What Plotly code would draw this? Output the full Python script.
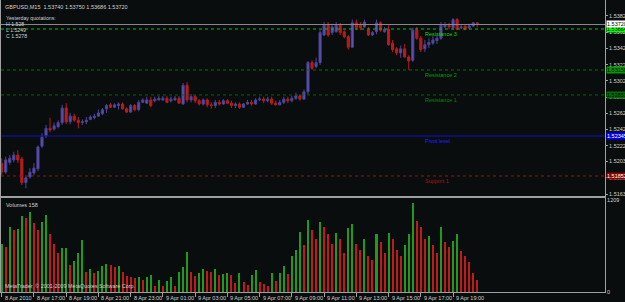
import plotly.graph_objects as go

# ---------------- data ----------------
bar_index = list(range(119))

opens = [1.5201,1.5190,1.5202,1.5205,1.5211,1.5206,1.5177,1.5184,1.5189,1.5194,
         1.5222,1.5235,1.5244,1.5243,1.5246,1.5251,1.5269,1.5252,1.5259,1.5254,
         1.5251,1.5252,1.5255,1.5257,1.5259,1.5262,1.5268,1.5273,1.5270,1.5272,
         1.5274,1.5268,1.5264,1.5272,1.5267,1.5276,1.5275,1.5279,1.5278,1.5279,
         1.5279,1.5281,1.5278,1.5279,1.5281,1.5274,1.5297,1.5279,1.5283,1.5278,
         1.5274,1.5279,1.5273,1.5272,1.5276,1.5274,1.5278,1.5275,1.5272,1.5274,
         1.5270,1.5274,1.5276,1.5274,1.5279,1.5280,1.5278,1.5280,1.5275,1.5273,
         1.5276,1.5280,1.5278,1.5281,1.5284,1.5280,1.5289,1.5325,1.5320,1.5325,
         1.5359,1.5371,1.5362,1.5363,1.5371,1.5363,1.5357,1.5344,1.5374,1.5371,
         1.5369,1.5366,1.5359,1.5363,1.5374,1.5363,1.5366,1.5349,1.5342,1.5337,
         1.5342,1.5332,1.5328,1.5365,1.5355,1.5342,1.5347,1.5349,1.5352,1.5355,
         1.5369,1.5371,1.5368,1.5378,1.5368,1.5370,1.5368,1.5370,1.53740]
highs = [1.5207,1.5209,1.5211,1.5215,1.5217,1.5209,1.5185,1.5195,1.5201,1.5223,
         1.5238,1.5248,1.5257,1.5251,1.5254,1.5273,1.5275,1.5263,1.5262,1.5258,
         1.5255,1.5258,1.5260,1.5262,1.5267,1.5269,1.5274,1.5275,1.5275,1.5276,
         1.5276,1.5270,1.5274,1.5274,1.5279,1.5281,1.5283,1.5283,1.5283,1.5284,
         1.5284,1.5284,1.5283,1.5284,1.5284,1.5300,1.5301,1.5286,1.5285,1.5280,
         1.5281,1.5281,1.5276,1.5279,1.5279,1.5280,1.5280,1.5278,1.5276,1.5276,
         1.5275,1.5279,1.5279,1.5281,1.5283,1.5283,1.5283,1.5283,1.5278,1.5279,
         1.5283,1.5283,1.5284,1.5288,1.5286,1.5292,1.5327,1.5328,1.5331,1.5365,
         1.5375,1.5375,1.5373,1.5375,1.5374,1.5365,1.5359,1.5378,1.5378,1.5375,
         1.5378,1.5369,1.5364,1.5378,1.5376,1.5369,1.5371,1.5353,1.5344,1.5346,
         1.5348,1.5334,1.5368,1.5369,1.5358,1.5353,1.5355,1.5358,1.5359,1.5375,
         1.5375,1.5374,1.5380,1.5380,1.5371,1.5371,1.5373,1.5375,1.53750]
lows = [1.5186,1.5188,1.5199,1.5202,1.5201,1.5174,1.5170,1.5182,1.5186,1.5191,
        1.5220,1.5232,1.5239,1.5241,1.5244,1.5248,1.5249,1.5249,1.5252,1.5244,
        1.5248,1.5249,1.5254,1.5255,1.5258,1.5260,1.5263,1.5269,1.5269,1.5267,
        1.5267,1.5263,1.5263,1.5265,1.5265,1.5275,1.5274,1.5270,1.5276,1.5278,
        1.5278,1.5275,1.5276,1.5278,1.5274,1.5273,1.5276,1.5276,1.5275,1.5272,
        1.5272,1.5270,1.5268,1.5269,1.5272,1.5273,1.5274,1.5269,1.5269,1.5268,
        1.5269,1.5273,1.5272,1.5273,1.5278,1.5275,1.5276,1.5273,1.5272,1.5272,
        1.5274,1.5275,1.5276,1.5279,1.5278,1.5279,1.5286,1.5316,1.5318,1.5322,
        1.5358,1.5357,1.5359,1.5362,1.5359,1.5355,1.5341,1.5343,1.5365,1.5365,
        1.5368,1.5358,1.5358,1.5360,1.5363,1.5362,1.5346,1.5338,1.5334,1.5331,
        1.5331,1.5316,1.5326,1.5353,1.5338,1.5338,1.5343,1.5347,1.5348,1.5353,
        1.5368,1.5366,1.5365,1.5365,1.5366,1.5365,1.5366,1.5369,1.53686]
closes = [1.5190,1.5205,1.5207,1.5211,1.5205,1.5177,1.5183,1.5190,1.5195,1.5221,
          1.5233,1.5244,1.5242,1.5247,1.5251,1.5269,1.5252,1.5259,1.5254,1.5251,
          1.5252,1.5254,1.5258,1.5259,1.5263,1.5267,1.5272,1.5270,1.5273,1.5274,
          1.5268,1.5264,1.5272,1.5267,1.5276,1.5279,1.5279,1.5272,1.5280,1.5281,
          1.5281,1.5276,1.5280,1.5281,1.5275,1.5297,1.5279,1.5283,1.5278,1.5274,
          1.5279,1.5273,1.5272,1.5276,1.5274,1.5278,1.5275,1.5272,1.5274,1.5270,
          1.5274,1.5276,1.5274,1.5279,1.5280,1.5278,1.5280,1.5275,1.5273,1.5276,
          1.5280,1.5278,1.5281,1.5284,1.5280,1.5289,1.5325,1.5318,1.5325,1.5362,
          1.5371,1.5359,1.5369,1.5371,1.5362,1.5357,1.5344,1.5374,1.5368,1.5368,
          1.5375,1.5359,1.5362,1.5374,1.5365,1.5366,1.5347,1.5341,1.5337,1.5342,
          1.5332,1.5327,1.5365,1.5355,1.5341,1.5347,1.5350,1.5353,1.5355,1.5371,
          1.5371,1.5369,1.5378,1.5366,1.5369,1.5366,1.5370,1.5374,1.53720]

volumes = [640,590,860,820,830,1000,975,1055,915,825,
           920,1020,760,630,515,575,585,360,415,520,
           685,260,305,245,272,350,370,360,330,345,
           260,205,195,180,195,165,195,230,80,160,
           80,140,200,80,260,330,530,260,205,245,
           300,280,270,310,229,242,255,229,123,255,
           132,88,229,286,132,110,79,255,141,255,
           350,242,480,560,790,620,950,820,700,930,
           860,760,640,780,700,520,840,900,640,560,
           700,480,420,760,660,520,780,700,560,480,
           620,760,1180,940,860,700,740,620,520,860,
           660,600,680,760,540,470,400,250,158]

tick_index = [0, 8, 16, 24, 32, 40, 48, 56, 64, 72, 80, 88, 96, 104, 112]
tick_labels = ["8 Apr 2010", "8 Apr 17:00", "8 Apr 19:00", "8 Apr 21:00", "8 Apr 23:00",
               "9 Apr 01:00", "9 Apr 03:00", "9 Apr 05:00", "9 Apr 07:00", "9 Apr 09:00",
               "9 Apr 11:00", "9 Apr 13:00", "9 Apr 15:00", "9 Apr 17:00", "9 Apr 19:00"]

price_ticks = [1.53825, 1.53625, 1.53425, 1.53225, 1.53025, 1.52825, 1.52625,
               1.52425, 1.52225, 1.52030, 1.51830, 1.51630]

level_names = ["Resistance 3", "Resistance 2", "Resistance 1", "Pivot level", "Support 1"]
level_values = [1.53664, 1.53159, 1.52851, 1.52345, 1.51852]
level_line_colors = ["#00c800", "#007a00", "#006400", "#1010d0", "#a01010"]
level_text_colors = ["#00dd00", "#00a000", "#008a00", "#2020ff", "#a81515"]
level_box_colors = ["#00ff00", "#009a00", "#006e00", "#0000ff", "#8b0000"]
level_dash = ["dot", "dot", "dot", "solid", "dot"]

yesterday_lines = ["Yesterday quotations:", "H 1.528", "L 1.5249", "C 1.5278"]

volume_max = 1209

# ---------------- figure ----------------
FONT = "Liberation Sans"
BG = "#0a0d0d"
AX = "#a0a0a0"
TXT = "#d0d0d0"

fig = go.Figure()

fig.add_trace(go.Candlestick(
    x=bar_index, open=opens, high=highs, low=lows, close=closes,
    increasing=dict(fillcolor="#5e54b4", line=dict(color="#4a4498", width=1)),
    decreasing=dict(fillcolor="#b81c1c", line=dict(color="#b81c1c", width=1)),
    whiskerwidth=0, xaxis="x", yaxis="y", showlegend=False, hoverinfo="skip"))

vol_colors = []
for i, v in enumerate(volumes):
    if i == 0 or v > volumes[i - 1]:
        vol_colors.append("#1f9a1f")
    else:
        vol_colors.append("#c21a1a")

fig.add_trace(go.Bar(
    x=bar_index, y=volumes, width=0.5, marker=dict(color=vol_colors, line=dict(width=0)),
    xaxis="x2", yaxis="y2", showlegend=False, hoverinfo="skip"))

shapes = []
annotations = []

# bid line
shapes.append(dict(type="line", xref="x domain", x0=0, x1=1, yref="y",
                   y0=closes[-1], y1=closes[-1], line=dict(color="#8a8a8a", width=1)))

for name, val, lc, tc, bc, dash in zip(level_names, level_values, level_line_colors,
                                        level_text_colors, level_box_colors, level_dash):
    shapes.append(dict(type="line", xref="x domain", x0=0, x1=1, yref="y",
                       y0=val, y1=val, line=dict(color=lc, width=1, dash=dash)))
    annotations.append(dict(x=104.6, xref="x", y=val, yref="y", text=name,
                            xanchor="left", yanchor="top", yshift=0, showarrow=False,
                            font=dict(family=FONT, size=5.5, color=tc)))
    annotations.append(dict(x=1, xref="paper", y=val, yref="y", text="%.5f" % val,
                            xanchor="left", yanchor="middle", showarrow=False,
                            bgcolor=bc, borderpad=0, xshift=1,
                            font=dict(family=FONT, size=5.5,
                                      color="#ffffff" if bc in ("#0000ff", "#8b0000") else "#000000")))

annotations.append(dict(x=1, xref="paper", y=closes[-1], yref="y", text="%.5f" % closes[-1],
                        xanchor="left", yanchor="middle", showarrow=False,
                        bgcolor="#ffffff", borderpad=0, xshift=1,
                        font=dict(family=FONT, size=5.5, color="#000000")))

header = "GBPUSD,M15  %.5f %.5f %.5f %.5f" % (opens[-1], highs[-1], lows[-1], closes[-1])
annotations.append(dict(x=0, xref="paper", y=1, yref="paper", text=header, xanchor="left",
                        yanchor="top", xshift=2, yshift=-2, showarrow=False,
                        font=dict(family=FONT, size=5.5, color=TXT)))
for k, line in enumerate(yesterday_lines):
    annotations.append(dict(x=0, xref="paper", y=1, yref="paper", text=line, xanchor="left",
                            yanchor="top", xshift=3, yshift=-12.5 - 6.1 * k, showarrow=False,
                            font=dict(family=FONT, size=5.2, color=TXT)))

annotations.append(dict(x=0, xref="paper", y=0.3219, yref="paper", text="Volumes %d" % volumes[-1],
                        xanchor="left", yanchor="top", xshift=3, yshift=-2, showarrow=False,
                        font=dict(family=FONT, size=5.5, color=TXT)))
annotations.append(dict(x=0, xref="paper", y=0, yref="paper",
                        text="MetaTrader, © 2001-2009 MetaQuotes Software Corp.",
                        xanchor="left", yanchor="bottom", xshift=2, yshift=1, showarrow=False,
                        font=dict(family=FONT, size=5.4, color=TXT)))

for ti, tl in zip(tick_index, tick_labels):
    annotations.append(dict(x=ti, xref="x2", y=0, yref="paper", text=tl, xanchor="left",
                            yanchor="top", xshift=1, yshift=-1, showarrow=False,
                            font=dict(family=FONT, size=5.5, color=TXT)))

fig.update_layout(
    width=625, height=302,
    margin=dict(l=1, r=20, t=0, b=10),
    paper_bgcolor=BG, plot_bgcolor=BG,
    template="none",
    boxgap=0.25,
    bargap=0,
    shapes=shapes, annotations=annotations,
    xaxis=dict(domain=[0, 1], range=[-0.174, 149.7], anchor="y", showticklabels=False,
               showgrid=False, zeroline=False, showline=True, mirror=True,
               linecolor=AX, linewidth=1, rangeslider=dict(visible=False),
               ticks="", automargin=False, fixedrange=True),
    yaxis=dict(domain=[0.32877, 1], range=[1.516053, 1.54022], side="right", anchor="x",
               tickvals=price_ticks, ticktext=["%.5f" % v for v in price_ticks],
               tickfont=dict(family=FONT, size=5.5, color=TXT), ticks="outside",
               ticklen=2, tickcolor=AX, showgrid=False, zeroline=False, showline=True,
               mirror=True, linecolor=AX, linewidth=1, automargin=False),
    xaxis2=dict(domain=[0, 1], matches="x", anchor="y2", showticklabels=False,
                tickvals=tick_index, ticks="outside", ticklen=4, tickcolor=AX,
                showgrid=False, zeroline=False, showline=True, mirror=True,
                linecolor=AX, linewidth=1, automargin=False),
    yaxis2=dict(domain=[0, 0.32192], range=[0, 1242], side="right", anchor="x2",
                tickvals=[0, volume_max], ticktext=["0", str(volume_max)],
                tickfont=dict(family=FONT, size=5.5, color=TXT), ticks="",
                showgrid=False, zeroline=False, showline=True, mirror=True,
                linecolor=AX, linewidth=1, automargin=False),
)

fig.write_html("out.html")
